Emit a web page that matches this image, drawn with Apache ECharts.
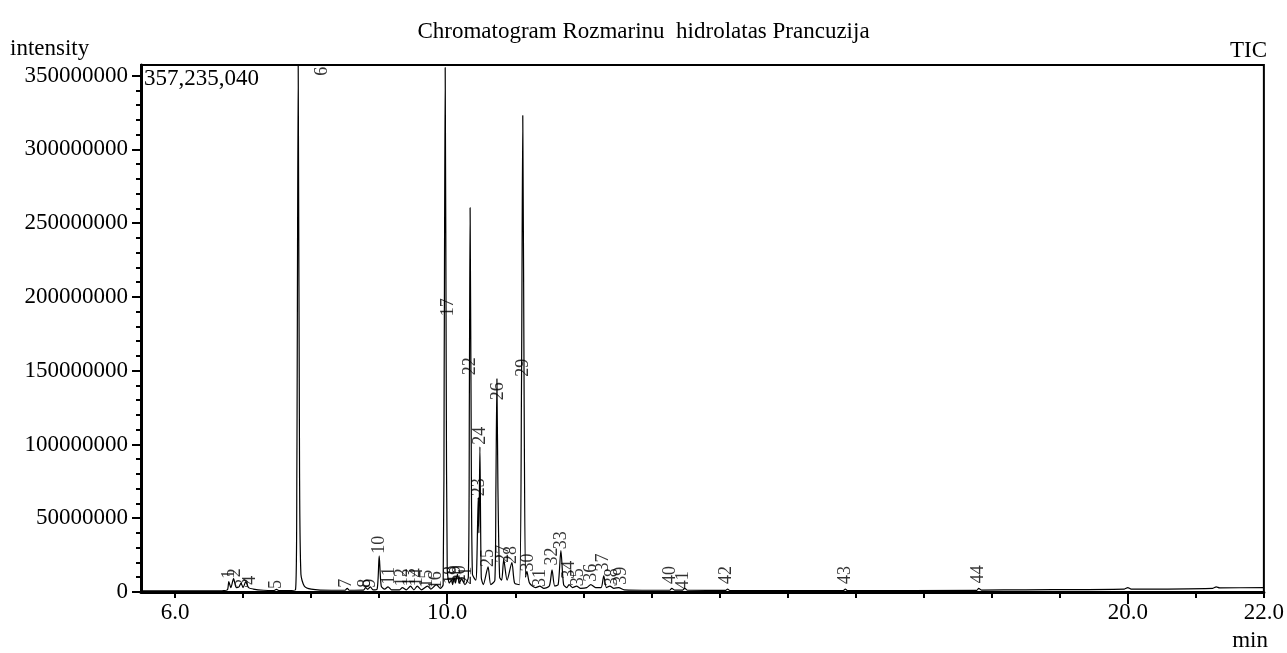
<!DOCTYPE html>
<html>
<head>
<meta charset="utf-8">
<title>Chromatogram</title>
<script src="https://cdn.jsdelivr.net/npm/echarts@6/dist/echarts.min.js"></script>
<style>
  html, body { margin: 0; padding: 0; background: #fff; }
  #chart { width: 1287px; height: 653px; }
</style>
</head>
<body>
<div id="chart"></div>
<script>
// retention time (min) and intensity (millions) of the TIC trace
const traceTime = [
  5.50, 6.70, 6.77, 6.79, 6.82, 6.86, 6.90, 6.94, 6.97, 7.00, 7.04, 7.08, 7.15, 7.30, 7.45, 7.49, 7.53,
  7.77, 7.79, 7.81, 7.83, 7.85, 7.90, 8.00, 8.30, 8.50, 8.53, 8.56, 8.77, 8.80, 8.83, 8.87, 8.91,
  8.97, 9.00, 9.03, 9.08, 9.13, 9.18, 9.30, 9.34, 9.40, 9.46, 9.51, 9.56, 9.62, 9.71, 9.76, 9.84, 9.90,
  9.94, 9.955, 9.97, 9.985, 10.00, 10.03, 10.06, 10.08, 10.10, 10.12, 10.15, 10.18, 10.21, 10.26,
  10.31, 10.325, 10.336, 10.35, 10.37, 10.42, 10.435, 10.455, 10.465, 10.48, 10.50, 10.53, 10.60, 10.64,
  10.70, 10.715, 10.73, 10.745, 10.77, 10.80, 10.83, 10.88, 10.95, 10.99, 11.06, 11.09, 11.11, 11.13,
  11.15, 11.17, 11.21, 11.30, 11.36, 11.42, 11.50, 11.54, 11.58, 11.63, 11.67, 11.71, 11.76, 11.79,
  11.84, 11.90, 11.96, 12.05, 12.11, 12.18, 12.26, 12.30, 12.34, 12.39, 12.45, 12.52, 12.60, 13.00,
  13.27, 13.30, 13.34, 13.46, 13.49, 13.53, 14.09, 14.12, 14.15, 15.82, 15.85, 15.88, 17.78, 17.81,
  17.85, 18.50, 19.95, 20.00, 20.05, 21.25, 21.30, 21.35, 22.00
];
const traceIntensity = [
  0.8, 0.9, 1.5, 7, 3, 9, 3, 3.5, 6, 3, 7, 3, 2, 1.2, 1.0, 1.8, 1.0,
  1.5, 80, 357.2, 80, 12, 4, 2, 1.2, 1.2, 2.5, 1.2, 1.3, 3, 1.8, 3.5, 1.5,
  2, 24.5, 4, 2, 3.5, 1.5, 1.5, 3, 1.5, 4, 1.5, 4, 1.5, 4, 2, 5, 2.5,
  5, 150, 355.5, 150, 15, 6, 8, 5, 10, 6, 12, 6, 9, 5,
  10, 130, 260.5, 130, 12, 8, 20, 64, 40, 98.4, 10, 5, 17, 5,
  8, 70, 144.5, 70, 10, 8, 22, 8, 20, 6, 5, 130, 323, 130,
  10, 14, 6, 3, 4, 2.5, 4, 15, 4, 5, 28, 5, 3, 5,
  3, 4, 2.5, 3, 5, 3, 3, 11, 3, 4, 2.5, 3, 1.5, 1.2,
  1.2, 2.5, 1.3, 1.3, 2.5, 1.2, 1.1, 2, 1.1, 1.0, 2, 1.0, 1.1, 2.5,
  1.3, 1.5, 2, 3, 2, 2.5, 3.5, 2.8, 3
];

// peak numbers and where their labels stand (time, intensity in millions)
const peakNo = [
  1, 2, 3, 4, 5, 6, 7, 8, 9, 10, 11, 12, 13, 14, 15, 16, 17, 18, 19, 20, 21, 22,
  23, 24, 25, 26, 27, 28, 29, 30, 31, 32, 33, 34, 35, 36, 37, 38, 39, 40, 41, 42, 43, 44
];
const labelTime = [
  6.80, 6.89, 7.01, 7.11, 7.49, 8.17, 8.52, 8.80, 8.87, 9.00, 9.15, 9.34, 9.46, 9.56, 9.71, 9.84, 10.01,
  10.06, 10.12, 10.19, 10.28, 10.34, 10.47, 10.48, 10.60, 10.75, 10.82, 10.94, 11.11, 11.19, 11.36,
  11.54, 11.67, 11.80, 11.92, 12.11, 12.30, 12.42, 12.55, 13.28, 13.47, 14.10, 15.85, 17.81
];
const labelLevel = [
  12, 13, 6, 8, 5, 353, 6, 6, 6, 32, 11, 10, 10, 10, 9, 8, 193,
  11.5, 12, 12, 11, 153, 71, 106, 23, 136, 26, 25, 152, 20, 9.5,
  24, 35, 15, 10, 13, 20, 10, 11, 11.5, 8, 11.5, 11.5, 12
];

const yMax = 357235040;
const yTickLabels = [0, 50000000, 100000000, 150000000, 200000000, 250000000, 300000000, 350000000];
const xTickValues = [6, 7, 8, 9, 10, 11, 12, 13, 14, 15, 16, 17, 18, 19, 20, 21, 22];
const xLabelValues = [6, 10, 20, 22];
const xMajorTicks = [10, 20];

const yMinorTicks = [];
for (let v = 10000000; v < yMax; v += 10000000) yMinorTicks.push(v);

const font = "'Liberation Serif', 'Times New Roman', serif";
const chart = echarts.init(document.getElementById("chart"));

const option = {
  animation: false,
  textStyle: { fontFamily: font, color: "#000" },
  title: {
    text: "Chromatogram Rozmarinu  hidrolatas Prancuzija",
    left: "center",
    top: 15,
    textStyle: { fontFamily: font, fontSize: 23, fontWeight: "normal", color: "#000" },
  },
  grid: {
    left: 141,
    right: 19,
    top: 65,
    bottom: 61,
    show: true,
    borderColor: "#000",
    borderWidth: 2,
  },
  xAxis: [
    {
      type: "value",
      min: 5.5,
      max: 22,
      axisLine: { lineStyle: { color: "#000", width: 3 } },
      axisTick: { customValues: xTickValues, length: 6, lineStyle: { color: "#000", width: 2 } },
      axisLabel: {
        customValues: xLabelValues,
        formatter: (v) => v.toFixed(1),
        fontFamily: font,
        fontSize: 23,
        color: "#000",
        margin: 9,
      },
      splitLine: { show: false },
    },
    {
      type: "value",
      min: 5.5,
      max: 22,
      position: "bottom",
      axisLine: { show: false },
      axisTick: { customValues: xMajorTicks, length: 12, lineStyle: { color: "#000", width: 2 } },
      axisLabel: { show: false },
      splitLine: { show: false },
    },
  ],
  yAxis: [
    {
      type: "value",
      min: 0,
      max: yMax,
      axisLine: { show: true, lineStyle: { color: "#000", width: 3 } },
      axisTick: { show: true, customValues: yTickLabels, length: 9, lineStyle: { color: "#000", width: 2 } },
      axisLabel: {
        customValues: yTickLabels,
        formatter: (v) => String(v),
        fontFamily: font,
        fontSize: 23,
        color: "#000",
        margin: 13,
      },
      splitLine: { show: false },
    },
    {
      type: "value",
      min: 0,
      max: yMax,
      position: "left",
      axisLine: { show: false },
      axisTick: { show: true, customValues: yMinorTicks, length: 5, lineStyle: { color: "#000", width: 2 } },
      axisLabel: { show: false },
      splitLine: { show: false },
    },
  ],
  graphic: [
    { type: "text", left: 10, top: 37, style: { text: "intensity", font: "23px " + font, fill: "#000" } },
    { type: "text", right: 20, top: 39, style: { text: "TIC", font: "23px " + font, fill: "#000" } },
    { type: "text", left: 144, top: 67, style: { text: "357,235,040", font: "23px " + font, fill: "#000" } },
    { type: "text", right: 19, top: 629, style: { text: "min", font: "23px " + font, fill: "#000" } },
  ],
  series: [
    {
      type: "line",
      data: traceTime.map((t, i) => [t, traceIntensity[i] * 1e6]),
      showSymbol: false,
      symbol: "none",
      smooth: 0.25,
      lineStyle: { color: "#000", width: 1.2 },
      z: 3,
    },
    {
      type: "scatter",
      data: labelTime.map((t, i) => ({ value: [t, labelLevel[i] * 1e6], name: String(peakNo[i]) })),
      symbolSize: 1,
      itemStyle: { color: "rgba(0,0,0,0)" },
      label: {
        show: true,
        position: "inside",
        rotate: 90,
        formatter: (p) => p.name,
        fontFamily: font,
        fontSize: 18,
        color: "#000",
      },
      z: 4,
    },
  ],
};

option && chart.setOption(option);
</script>
</body>
</html>
